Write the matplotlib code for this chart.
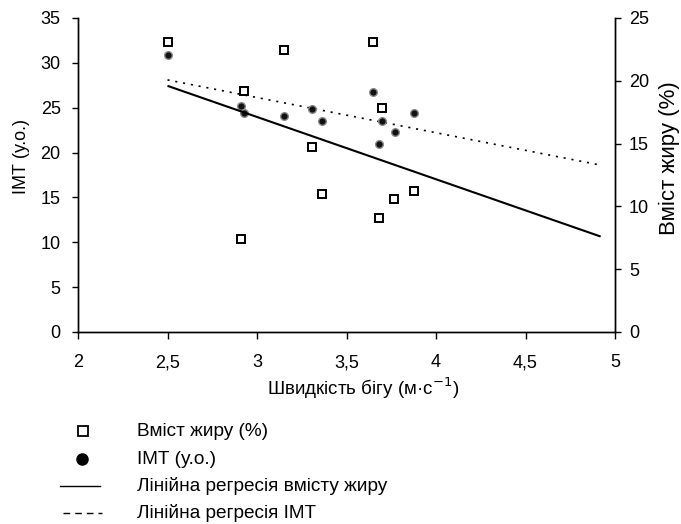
import matplotlib
matplotlib.use("Agg")
import matplotlib.pyplot as plt
from matplotlib.lines import Line2D

plt.rcParams['font.family'] = ['Liberation Sans', 'DejaVu Sans']
plt.rcParams['lines.scale_dashes'] = False

# Data
fat_speed = [2.50, 3.15, 3.65, 2.925, 3.70, 3.31, 3.365, 3.875, 3.765, 3.68, 2.91]
fat_pct = [23.1, 22.45, 23.1, 19.2, 17.8, 14.7, 11.0, 11.2, 10.6, 9.05, 7.4]

bmi_speed = [2.50, 2.91, 2.925, 3.15, 3.31, 3.365, 3.65, 3.70, 3.875, 3.77, 3.68]
bmi_val = [30.9, 25.2, 24.4, 24.1, 24.9, 23.55, 26.8, 23.55, 24.4, 22.3, 21.0]

reg_x = [2.5, 4.92]
fat_reg = [19.6, 7.6]
bmi_reg = [28.1, 18.6]

x_ticks = [2, 2.5, 3, 3.5, 4, 4.5, 5]
x_tick_labels = ['2', '2,5', '3', '3,5', '4', '4,5', '5']
left_ticks = [0, 5, 10, 15, 20, 25, 30, 35]
right_ticks = [0, 5, 10, 15, 20, 25]

W, H = 681, 524
fig = plt.figure(figsize=(W / 100, H / 100), dpi=100)
ax = fig.add_axes([78 / W, 1 - 332 / H, (615 - 78) / W, (332 - 18) / H])
ax2 = ax.twinx()

fs = 13
for a in (ax, ax2):
    a.spines['top'].set_visible(False)
    for s in a.spines.values():
        s.set_linewidth(1.0)
        s.set_color('black')

ax.set_xlim(2, 5)
ax.set_ylim(0, 35)
ax2.set_ylim(0, 25)
ax.set_xticks(x_ticks)
ax.set_xticklabels(x_tick_labels)
ax.set_yticks(left_ticks)
ax2.set_yticks(right_ticks)
ax.tick_params(axis='x', direction='out', length=5, width=1, pad=11, labelsize=fs)
ax.tick_params(axis='y', direction='out', length=4.5, width=1, pad=8, labelsize=fs)
ax2.tick_params(axis='y', direction='out', length=4, width=1, pad=6, labelsize=fs)

# Regression lines
ax2.plot(reg_x, fat_reg, color='black', lw=1.5, solid_capstyle='butt')
ax.plot(reg_x, bmi_reg, color='black', lw=1.2, linestyle=(0, (1.5, 4.2)))

# Points
ax.plot(bmi_speed, bmi_val, linestyle='none', marker='o', markersize=5.5,
        markerfacecolor='#111111', markeredgecolor='#8a8a8a', markeredgewidth=1.0)
ax2.plot(fat_speed, fat_pct, linestyle='none', marker='s', markersize=6.3,
         markerfacecolor='white', markeredgecolor='black', markeredgewidth=1.4)

# Axis labels
fig.text(21 / W, 1 - 157 / H, 'ІМТ (у.о.)', rotation=90, ha='center', va='center', fontsize=13)
fig.text(659 / W, 1 - 158 / H, 'Вміст жиру (%)', rotation=90, ha='left', va='center', fontsize=16)
fig.text(363 / W, 1 - 388 / H, 'Швидкість бігу (м·с$^{-1}$)', ha='center', va='center', fontsize=13.5)

# Legend (manual)
lfs = 13.7
tx = 137 / W
rows_y = [431, 459, 486, 513]
fig.add_artist(Line2D([83 / W], [1 - rows_y[0] / H], transform=fig.transFigure, marker='s',
                      markersize=6.5, markerfacecolor='white', markeredgecolor='black',
                      markeredgewidth=1.3, linestyle='none'))
fig.text(tx, 1 - rows_y[0] / H, 'Вміст жиру (%)', ha='left', va='center', fontsize=lfs)
fig.add_artist(Line2D([82 / W], [1 - rows_y[1] / H], transform=fig.transFigure, marker='o',
                      markersize=8, markerfacecolor='black', markeredgecolor='black',
                      linestyle='none'))
fig.text(tx, 1 - rows_y[1] / H, 'ІМТ (у.о.)', ha='left', va='center', fontsize=lfs)
fig.add_artist(Line2D([60 / W, 100 / W], [1 - rows_y[2] / H, 1 - rows_y[2] / H],
                      transform=fig.transFigure, color='black', lw=1.0))
fig.text(tx, 1 - rows_y[2] / H, 'Лінійна регресія вмісту жиру', ha='left', va='center', fontsize=lfs)
fig.add_artist(Line2D([63 / W, 102 / W], [1 - rows_y[3] / H, 1 - rows_y[3] / H],
                      transform=fig.transFigure, color='black', lw=1.0,
                      linestyle=(0, (4.8, 3.6))))
fig.text(tx, 1 - rows_y[3] / H, 'Лінійна регресія ІМТ', ha='left', va='center', fontsize=lfs)

fig.savefig('out.png', dpi=100)
